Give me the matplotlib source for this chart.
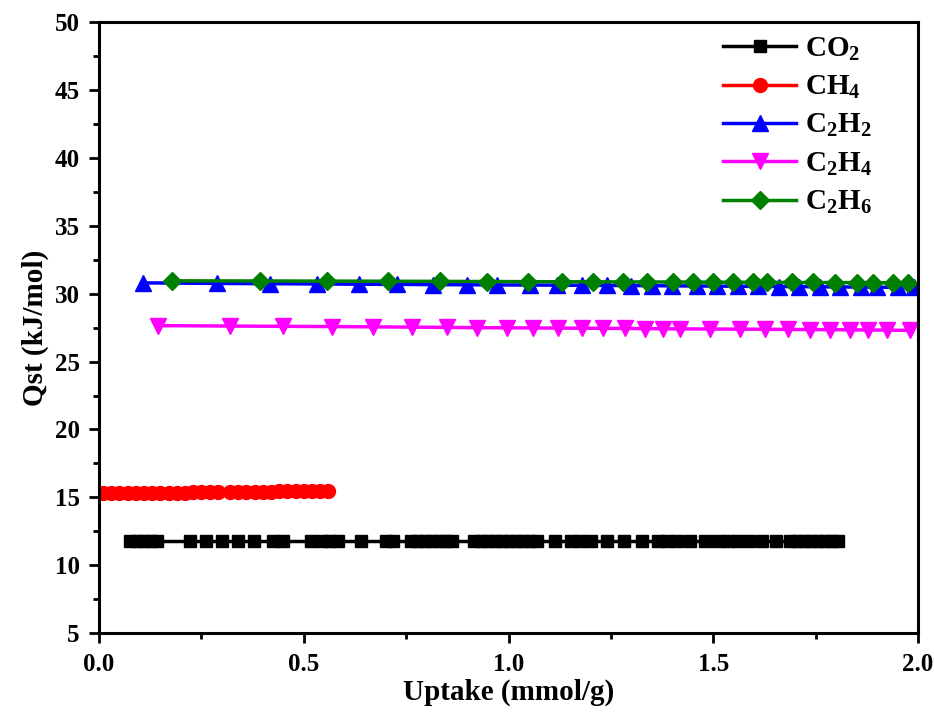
import matplotlib
matplotlib.use("Agg")
import matplotlib.pyplot as plt
from matplotlib.ticker import MultipleLocator

# data
co2_x = [0.076, 0.093, 0.110, 0.127, 0.142, 0.222, 0.261, 0.300, 0.339, 0.379,
         0.425, 0.449, 0.518, 0.545, 0.564, 0.584, 0.640, 0.701, 0.718,
         0.762, 0.779, 0.796, 0.813, 0.830, 0.847, 0.862,
         0.916, 0.933, 0.950, 0.967, 0.984, 1.001, 1.018, 1.035, 1.052, 1.070,
         1.114, 1.153, 1.175, 1.201, 1.241, 1.282, 1.326, 1.365, 1.387, 1.411,
         1.443, 1.480, 1.512, 1.536, 1.560, 1.587, 1.619, 1.653,
         1.687, 1.704, 1.721, 1.738, 1.756, 1.773, 1.790, 1.805]
co2_y = [11.8] * len(co2_x)

ch4_x = [0.010, 0.030, 0.050, 0.070, 0.090, 0.110, 0.130, 0.150, 0.170, 0.190,
         0.210, 0.230, 0.250, 0.270, 0.290, 0.320, 0.340, 0.360, 0.380, 0.400,
         0.420, 0.440, 0.460, 0.480, 0.500, 0.520, 0.540, 0.560]
ch4_y = [15.30, 15.31, 15.31, 15.32, 15.32, 15.33, 15.33, 15.34, 15.34, 15.35,
         15.35, 15.36, 15.36, 15.37, 15.37, 15.38, 15.39, 15.40, 15.41, 15.42,
         15.43, 15.44, 15.45, 15.46, 15.47, 15.48, 15.49, 15.50]

c2h2_x = [0.107, 0.288, 0.418, 0.532, 0.635, 0.728, 0.816, 0.899, 0.972, 1.052,
          1.118, 1.180, 1.240, 1.300, 1.350, 1.400, 1.460, 1.510, 1.560, 1.610,
          1.660, 1.710, 1.760, 1.810, 1.860, 1.900, 1.950, 1.990]
c2h2_y = [30.80, 30.76, 30.74, 30.72, 30.70, 30.69, 30.67, 30.66, 30.65, 30.64,
          30.63, 30.62, 30.61, 30.60, 30.59, 30.58, 30.57, 30.56, 30.55, 30.54,
          30.53, 30.52, 30.51, 30.50, 30.49, 30.48, 30.47, 30.46]

c2h4_x = [0.144, 0.320, 0.449, 0.569, 0.669, 0.764, 0.850, 0.923, 0.996, 1.060,
          1.121, 1.180, 1.231, 1.284, 1.333, 1.377, 1.419, 1.492, 1.565, 1.626,
          1.682, 1.736, 1.785, 1.834, 1.878, 1.924, 1.980]
c2h4_y = [27.65, 27.62, 27.60, 27.58, 27.56, 27.54, 27.52, 27.50, 27.49, 27.48,
          27.47, 27.46, 27.45, 27.44, 27.43, 27.42, 27.41, 27.40, 27.39, 27.38,
          27.37, 27.36, 27.35, 27.34, 27.33, 27.32, 27.30]

c2h6_x = [0.178, 0.393, 0.557, 0.706, 0.833, 0.947, 1.048, 1.131, 1.206, 1.280,
          1.338, 1.402, 1.450, 1.499, 1.548, 1.597, 1.631, 1.692, 1.744, 1.797,
          1.851, 1.890, 1.939, 1.976]
c2h6_y = [30.95, 30.94, 30.93, 30.92, 30.91, 30.90, 30.89, 30.88, 30.88, 30.87,
          30.87, 30.86, 30.86, 30.85, 30.85, 30.84, 30.84, 30.83, 30.83, 30.82,
          30.82, 30.81, 30.81, 30.80]

plt.rcParams['font.family'] = ['Liberation Serif', 'DejaVu Serif']
plt.rcParams['font.weight'] = 'bold'
plt.rcParams['mathtext.fontset'] = 'custom'
plt.rcParams['mathtext.rm'] = 'Liberation Serif:bold'
plt.rcParams['mathtext.bf'] = 'Liberation Serif:bold'
plt.rcParams['mathtext.it'] = 'Liberation Serif:bold'

fig = plt.figure(figsize=(9.34, 7.17), dpi=100)
ax = fig.add_axes([0.106, 0.117, 0.877, 0.852])

lw = 2.5
ax.plot(co2_x, co2_y, color='black', marker='s', lw=lw, ms=9, label='CO$_2$')
ax.plot(ch4_x, ch4_y, color='red', marker='o', lw=lw, ms=10, label='CH$_4$')
ax.plot(c2h2_x, c2h2_y, color='blue', marker='^', lw=lw, ms=11, label='C$_2$H$_2$')
ax.plot(c2h4_x, c2h4_y, color='magenta', marker='v', lw=lw, ms=11, label='C$_2$H$_4$')
ax.plot(c2h6_x, c2h6_y, color='green', marker='D', lw=lw, ms=9, label='C$_2$H$_6$')

ax.set_xlim(0, 2.0)
ax.set_ylim(5, 50)
ax.xaxis.set_major_locator(MultipleLocator(0.5))
ax.xaxis.set_minor_locator(MultipleLocator(0.25))
ax.yaxis.set_major_locator(MultipleLocator(5))
ax.yaxis.set_minor_locator(MultipleLocator(2.5))
ax.xaxis.set_major_formatter(plt.FormatStrFormatter('%.1f'))

for s in ax.spines.values():
    s.set_linewidth(2.2)
ax.tick_params(which='major', direction='out', length=7, width=2, labelsize=18, pad=7)
ax.tick_params(which='minor', direction='out', length=4, width=2)
ax.tick_params(top=False, right=False)

ax.set_xlabel('Uptake (mmol/g)', fontsize=21, fontweight='bold', labelpad=2)
ax.set_ylabel('Qst (kJ/mol)', fontsize=21, fontweight='bold', labelpad=4)

ax.legend(loc='upper left', bbox_to_anchor=(0.762, 0.978), frameon=False,
          fontsize=21, handlelength=2.5, labelspacing=0.38, handletextpad=0.3,
          borderpad=0, borderaxespad=0)

fig.savefig('out.png', dpi=100)
